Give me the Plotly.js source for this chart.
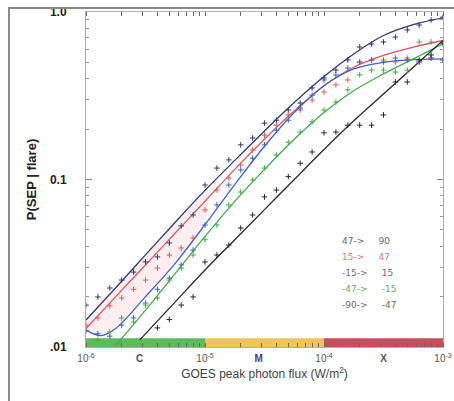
<!DOCTYPE html>
<html><head><meta charset="utf-8">
<script src="https://cdn.plot.ly/plotly-3.0.1.min.js"></script>
<style>
html,body{margin:0;padding:0;background:#fff}
#wrap{position:relative;width:454px;height:401px}
#chart{width:454px;height:401px}
#ftop{position:absolute;left:9px;top:7px;width:445px;height:2px;background:#8a8a8a;z-index:10}
#fleft{position:absolute;left:8px;top:7px;width:2px;height:394px;background:#8a8a8a;z-index:10}
</style>
</head><body><div id="wrap"><div id="chart"></div><div id="ftop"></div><div id="fleft"></div></div>
<script>
// ---- data ----
const seriesNames = ['47-> 90', '15-> 47', '-15-> 15', '-47-> -15', '-90-> -47'];
const legendFrom = ['47->', '15->', '-15->', '-47->', '-90->'];
const legendTo = ['90', '47', '15', '-15', '-47'];

// point positions (log10 of GOES flux, W/m^2)
const ptExp = [-6.0,-5.9,-5.8,-5.7,-5.6,-5.5,-5.4,-5.3,-5.2,-5.1,-5.0,-4.9,-4.8,-4.7,-4.6,-4.5,-4.4,-4.3,-4.2,-4.1,-4.0,-3.9,-3.8,-3.7,-3.6,-3.5,-3.4,-3.3,-3.2,-3.1,-3.0];

const ptA = [0.0178,0.0199,0.0225,0.0251,0.0280,0.0322,0.0345,0.0418,0.0528,0.0614,0.0927,0.117,0.131,0.161,0.177,0.217,0.226,0.260,0.286,0.352,0.404,0.450,0.517,0.618,0.644,0.662,0.709,0.781,0.836,0.896,0.933];
const ptB = [0.0135,0.0149,0.0176,0.0196,0.0221,0.0251,0.0296,0.0354,0.0390,0.0448,0.0658,0.0865,0.102,0.122,0.150,0.184,0.211,0.243,0.260,0.298,0.333,0.367,0.393,0.503,0.517,0.517,0.503,0.531,0.503,0.531,0.517];
const ptC = [0.0125,0.0120,0.0116,0.0135,0.0149,0.0183,0.0221,0.0258,0.0309,0.0379,0.0535,0.0705,0.0927,0.114,0.134,0.161,0.197,0.226,0.267,0.319,0.393,0.421,0.463,0.503,0.517,0.503,0.531,0.517,0.503,0.531,0.517];
const ptD = [null,0.0110,0.0123,0.0149,0.0141,0.0178,0.0196,0.0251,0.0296,0.0354,0.0437,0.0535,0.0705,0.0842,0.0993,0.117,0.140,0.167,0.192,0.221,0.260,0.290,0.343,0.421,0.450,0.450,0.438,0.450,0.662,0.662,0.644];
const ptE = [null,null,null,null,null,null,0.0130,0.0146,0.0178,0.0199,0.0322,0.0354,0.0406,0.0513,0.0614,0.0787,0.0865,0.104,0.125,0.146,0.190,0.192,0.211,0.211,0.211,0.243,0.382,0.382,0.517,0.554,0.653];

// fitted curves
const fitExp = [-6.0,-5.75,-5.5,-5.25,-5.0,-4.75,-4.5,-4.25,-4.0,-3.75,-3.5,-3.25,-3.0];
const fitA = [0.0145,0.0226,0.0355,0.0556,0.0861,0.130,0.195,0.288,0.412,0.562,0.724,0.841,0.923];
const fitB = [0.0129,0.0200,0.0309,0.0479,0.0741,0.115,0.174,0.257,0.363,0.468,0.550,0.617,0.676];
const fitExpC = [-6.0,-5.875,-5.75,-5.5,-5.25,-5.0,-4.75,-4.5,-4.25,-4.0,-3.75,-3.5,-3.25,-3.0];
const fitC = [0.0126,0.0117,0.0129,0.0200,0.0316,0.0537,0.0933,0.158,0.251,0.363,0.457,0.501,0.519,0.525];
const fitExpD = [-5.75,-5.5,-5.25,-5.0,-4.75,-4.5,-4.25,-4.0,-3.75,-3.5,-3.25,-3.0];
const fitD = [0.0102,0.0166,0.0275,0.0457,0.0741,0.115,0.174,0.251,0.339,0.427,0.525,0.646];
const fitExpE = [-5.55,-5.25,-5.0,-4.75,-4.5,-4.25,-4.0,-3.75,-3.5,-3.25,-3.0];
const fitE = [0.0110,0.0186,0.0288,0.0437,0.0661,0.100,0.151,0.224,0.324,0.468,0.676];

const xTickExp = [-6, -5.55, -5, -4.55, -4, -3.5, -3];
const xTickText = ['10<sup>-6</sup>', '<b>C</b>', '10<sup>-5</sup>', '<b><span style="color:#4a3a8a">M</span></b>', '10<sup>-4</sup>', '<b>X</b>', '10<sup>-3</sup>'];
const yTickVals = [0.01, 0.1, 1];
const yTickText = ['<b>.01</b>', '<b>0.1</b>', '<b>1.0</b>'];

const lineColors = ['#2b3a78', '#e0585c', '#3f63c8', '#3fae4a', '#2a2a2a'];
const pointColors = ['#2b3a78', '#e0585c', '#3f63c8', '#3fae4a', '#2a2a2a'];
const legendColors = ['#666677', '#e07a7a', '#707080', '#6aa86a', '#6a6a6a'];

// ---- build ----
const pow = a => a.map(v => Math.pow(10, v));
const pts = [ptA, ptB, ptC, ptD, ptE];
const fits = [[fitExp, fitA], [fitExp, fitB], [fitExpC, fitC], [fitExpD, fitD], [fitExpE, fitE]];

const traces = [];
// faint pink band between the upper (47->90) and hook (-15->15) fits at low flux
const bandX = pow(fitExp.slice(0, 5)).concat(pow(fitExpC.slice(0, 6)).reverse());
const bandY = fitA.slice(0, 5).concat(fitC.slice(0, 6).reverse());
traces.push({x: bandX, y: bandY, mode: 'lines', fill: 'toself', fillcolor: 'rgba(236,150,170,0.16)', line: {width: 0, shape: 'spline'}, showlegend: false, hoverinfo: 'skip'});
fits.forEach((f, i) => {
  traces.push({x: pow(f[0]), y: f[1], mode: 'lines', line: {color: lineColors[i], width: 1.3, shape: 'spline', smoothing: 1}, showlegend: false, hoverinfo: 'skip'});
});
pts.forEach((p, i) => {
  traces.push({x: pow(ptExp), y: p, mode: 'markers', name: seriesNames[i], marker: {symbol: 'cross-thin', size: 4, line: {width: 1, color: pointColors[i]}}, showlegend: false});
});

const minorX = [];
[-6, -5, -4].forEach(d => { for (let m = 1; m <= 9; m++) minorX.push(m * Math.pow(10, d)); });
minorX.push(1e-3);
const minorY = [];
[-2, -1].forEach(d => { for (let m = 2; m <= 9; m++) minorY.push(m * Math.pow(10, d)); });

const annotations = [];
legendFrom.forEach((t, i) => {
  const yy = 0.316 - i * 0.0478;
  annotations.push({xref: 'paper', yref: 'paper', x: 0.711, y: yy, xanchor: 'left', yanchor: 'middle',
    text: t + '\u00a0\u00a0\u00a0\u00a0\u00a0' + legendTo[i], showarrow: false, font: {size: 9, color: legendColors[i], family: 'DejaVu Sans'}});
});

const bandH = 0.026;
const shapes = [
  {type: 'rect', xref: 'paper', yref: 'paper', x0: 0, x1: 1/3, y0: 0, y1: bandH, fillcolor: '#5dbb5a', line: {width: 0}, layer: 'below'},
  {type: 'rect', xref: 'paper', yref: 'paper', x0: 1/3, x1: 2/3, y0: 0, y1: bandH, fillcolor: '#f2c25e', line: {width: 0}, layer: 'below'},
  {type: 'rect', xref: 'paper', yref: 'paper', x0: 2/3, x1: 1, y0: 0, y1: bandH, fillcolor: '#c4505e', line: {width: 0}, layer: 'below'}
];

const layout = {
  width: 454, height: 401,
  margin: {l: 86, r: 11, t: 12, b: 54},
  paper_bgcolor: 'rgba(0,0,0,0)', plot_bgcolor: '#ffffff',
  font: {family: 'Liberation Sans, Arial, sans-serif', color: '#333'},
  showlegend: false,
  xaxis: {
    type: 'log', range: [-6, -3],
    tickvals: pow(xTickExp), ticktext: xTickText, tickmode: 'array',
    ticks: '', showgrid: false, zeroline: false,
    showline: true, linecolor: '#b0b0b0', linewidth: 1, mirror: 'ticks',
    tickfont: {size: 10, color: '#555'},
    ticklabelstandoff: 2,
    minor: {tickmode: 'array', tickvals: minorX, ticks: 'inside', ticklen: 4, tickcolor: '#666', showgrid: false},
    title: {text: 'GOES peak photon flux (W/m<sup>2</sup>)', font: {size: 12, color: '#444'}, standoff: 6}
  },
  yaxis: {
    type: 'log', range: [-2, 0],
    tickvals: yTickVals, ticktext: yTickText, tickmode: 'array',
    ticks: 'inside', ticklen: 6, tickcolor: '#888',
    showgrid: false, zeroline: false,
    showline: true, linecolor: '#b0b0b0', linewidth: 1, mirror: 'ticks',
    tickfont: {size: 12, color: '#222'},
    ticklabelstandoff: 16,
    minor: {tickmode: 'array', tickvals: minorY, ticks: 'inside', ticklen: 3, tickcolor: '#999', showgrid: false},
    title: {text: '<b>P(SEP | flare)</b>', font: {size: 13, color: '#222'}, standoff: 10}
  },
  shapes: shapes,
  annotations: annotations
};

Plotly.newPlot('chart', traces, layout, {displayModeBar: false, staticPlot: true});
</script></body></html>
